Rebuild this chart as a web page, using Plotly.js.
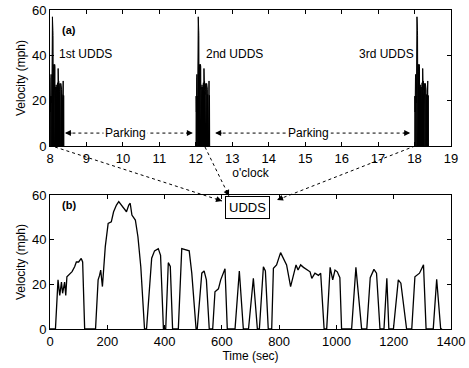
<!DOCTYPE html>
<html>
<head>
<meta charset="utf-8">
<script src="https://cdn.plot.ly/plotly-3.0.1.min.js"></script>
<style>html,body{margin:0;padding:0;background:#fff;}#chart{width:469px;height:368px;}</style>
</head>
<body>
<div id="chart"></div>
<script>
// UDDS drive cycle
const uddsTime = [0,19,28,34,40,44,51,55,59,69,77,86,92,100,109,114,121,
  159,168,173,177,183,189,193,203,214,222,232,240,249,258,267,275,280,286,298,307,317,330,
  337,355,365,378,386,396,
  404,413,420,428,
  448,460,472,486,495,510,
  514,530,538,546,556,
  568,576,588,596,611,619,
  646,661,675,
  693,710,724,
  731,745,752,762,
  774,780,791,805,815,826,840,850,859,866,875,885,894,908,914,925,937,945,957,
  966,978,987,995,1003,1012,1018,
  1053,1068,1088,
  1106,1118,1131,1140,1152,
  1166,1176,1183,
  1199,1216,1225,1245,
  1263,1274,1290,1304,1313,
  1338,1350,1364,1369];
const uddsSpeed = [0,0,22,15,21,16,21,15,23.4,24.5,25.7,27.9,30,30,31.6,30,0,
  0,22,24,26.4,19,27.9,36.9,47.3,48,52.5,55.5,57,55.5,54,52.5,55.5,56.3,51,48.8,41.3,27.9,0,
  0,31.7,35,36,33,0,
  0,29.7,28,0,
  0,36,35.5,35,25,0,
  0,25,26,22,0,
  0,16.7,18,22,27,0,
  0,26,0,
  0,22.7,0,
  0,27.9,26,0,
  0,27.2,28.7,34.2,31.7,28.7,19,24.9,28.7,26.4,28.7,27.6,26.7,25.6,22.7,25,24,25,0,
  0,27.6,22,26.4,25.6,23,0,
  0,27.6,0,
  0,23,26.7,25,0,
  0,22.7,0,
  0,22,20.5,0,
  0,23.4,25,28.7,0,
  0,22.3,0,0];
// start hours of the three UDDS runs in panel (a)
const runStartHours = [8, 12, 18];
const runLabels = ['1st UDDS', '2nd UDDS', '3rd UDDS'];
const hourTicks = [8,9,10,11,12,13,14,15,16,17,18,19];
const timeTicks = [0,200,400,600,800,1000,1200,1400];
const speedTicks = [0,20,40,60];

const traces = [];
runStartHours.forEach(h => {
  traces.push({
    x: uddsTime.map(t => h + t/3600), y: uddsSpeed,
    xaxis: 'x', yaxis: 'y', mode: 'lines', type: 'scatter',
    line: {color: '#000', width: 1}, fill: 'tozeroy', fillcolor: '#000',
    showlegend: false, hoverinfo: 'skip'
  });
});
traces.push({
  x: uddsTime, y: uddsSpeed, xaxis: 'x2', yaxis: 'y2', mode: 'lines', type: 'scatter',
  line: {color: '#000', width: 1.3}, showlegend: false, hoverinfo: 'skip'
});

const F = 'Liberation Sans, Arial, sans-serif';
const FN = 'Liberation Sans Narrow, Liberation Sans, Arial, sans-serif';
const axBase = {
  showline: true, linecolor: '#000', linewidth: 1, mirror: 'allticks',
  ticks: 'inside', ticklen: 4, tickcolor: '#000', showgrid: false, zeroline: false,
  tickfont: {family: FN, size: 13, color: '#000'}
};

// helpers for pixel -> paper coordinates
const px = v => (v - 50) / 401;
const py = v => (329 - v) / 319;

const annotations = [
  {xref: 'x', yref: 'y', x: 8.52, y: 51, text: '<b>(a)</b>', showarrow: false, font: {family: F, size: 11, color: '#000'}},
  {xref: 'x2', yref: 'y2', x: 65, y: 55.5, text: '<b>(b)</b>', showarrow: false, font: {family: F, size: 11, color: '#000'}},
  {xref: 'paper', yref: 'paper', x: px(247.5), y: py(207), text: 'UDDS', showarrow: false,
   bordercolor: '#000', borderwidth: 1, borderpad: 3, bgcolor: '#fff', font: {family: F, size: 13, color: '#000'}}
];
const labelX = [8.2, 12.22, 16.42];
runLabels.forEach((t, i) => annotations.push({
  xref: 'x', yref: 'y', x: labelX[i], y: 40.5, text: t, showarrow: false, xanchor: 'left',
  font: {family: F, size: 12, color: '#000'}
}));
// parking labels
[[10.08],[15.1]].forEach(p => annotations.push({
  xref: 'x', yref: 'y', x: p[0], y: 5.7, text: 'Parking', showarrow: false, bgcolor: '#fff',
  font: {family: F, size: 12, color: '#000'}
}));
// parking arrowheads
[[8.41, 8], [11.92, -8], [12.53, 8], [17.88, -8]].forEach(a => annotations.push({
  xref: 'x', yref: 'y', x: a[0], y: 5.7, ax: a[1], ay: 0, text: '', showarrow: true,
  arrowhead: 2, arrowsize: 1, arrowwidth: 1.2, arrowcolor: '#000', standoff: 0
}));
// connector arrowheads
[[222, 201, -7.6, -2.5], [229, 196, -3.5, -7.2], [277, 200, 7.4, -2.9]].forEach(a => annotations.push({
  xref: 'paper', yref: 'paper', x: px(a[0]), y: py(a[1]), ax: a[2], ay: a[3], text: '', showarrow: true,
  arrowhead: 2, arrowsize: 1, arrowwidth: 1.2, arrowcolor: '#000', standoff: 0
}));

const dash = {color: '#000', width: 1, dash: '3px,3px'};
const shapes = [
  {type: 'line', xref: 'x', yref: 'y', x0: 8.45, x1: 11.88, y0: 5.7, y1: 5.7, line: dash},
  {type: 'line', xref: 'x', yref: 'y', x0: 12.57, x1: 17.84, y0: 5.7, y1: 5.7, line: dash},
  {type: 'line', xref: 'paper', yref: 'paper', x0: px(55), y0: py(147), x1: px(222), y1: py(201), line: dash},
  {type: 'line', xref: 'paper', yref: 'paper', x0: px(205), y0: py(147), x1: px(229), y1: py(196), line: dash},
  {type: 'line', xref: 'paper', yref: 'paper', x0: px(415), y0: py(146), x1: px(277), y1: py(200), line: dash}
];

const layout = {
  width: 469, height: 368,
  margin: {l: 50, r: 18, t: 10, b: 39},
  paper_bgcolor: '#fff', plot_bgcolor: '#fff',
  font: {family: F, size: 12, color: '#000'},
  showlegend: false,
  xaxis: Object.assign({}, axBase, {domain: [0, 1], anchor: 'y', range: [8, 19], tickvals: hourTicks,
    title: {text: "o'clock", font: {family: F, size: 12, color: '#000'}, standoff: 3}}),
  yaxis: Object.assign({}, axBase, {domain: [py(146), 1], anchor: 'x', range: [0, 60], tickvals: speedTicks,
    title: {text: 'Velocity (mph)', font: {family: F, size: 12, color: '#000'}, standoff: 3}}),
  xaxis2: Object.assign({}, axBase, {domain: [0, 1], anchor: 'y2', range: [0, 1400], tickvals: timeTicks,
    title: {text: 'Time (sec)', font: {family: F, size: 12, color: '#000'}, standoff: 3}}),
  yaxis2: Object.assign({}, axBase, {domain: [0, py(195)], anchor: 'x2', range: [0, 60], tickvals: speedTicks,
    title: {text: 'Velocity (mph)', font: {family: F, size: 12, color: '#000'}, standoff: 3}}),
  annotations: annotations,
  shapes: shapes
};

Plotly.newPlot('chart', traces, layout, {staticPlot: true, displayModeBar: false});
</script>
</body>
</html>
